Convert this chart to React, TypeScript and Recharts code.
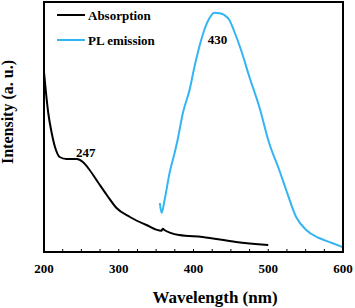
import React from "react";
import { LineChart, Line, XAxis, YAxis } from "recharts";

// absorption spectrum (black)
const absWavelength = [200, 202.7, 205.7, 210.3, 214.7, 221, 230, 244, 252, 261, 272, 284, 297, 315, 337, 357, 359, 361, 381, 412, 457, 500];
const absIntensity = [72, 63.6, 55.6, 47.6, 42, 38, 37.2, 37.2, 36, 32.8, 28, 22.8, 17.6, 14, 10.8, 8.5, 9.3, 8.8, 6.8, 6, 4, 2.8];

// PL emission spectrum (blue)
const plWavelength = [355, 357.3, 361.3, 368, 374.7, 378.7, 385.7, 394.7, 401.3, 410.3, 416, 421.3, 428, 434.7, 441.3, 448, 454.7, 463.6, 474.7, 488, 501.3, 514.7, 524, 537.3, 550.7, 568, 585.3, 599];
const plIntensity = [19.6, 15.6, 20.8, 31.6, 39.6, 44.8, 55.5, 64.8, 74.1, 84.8, 90.1, 93.5, 95.7, 95.5, 94.8, 92.8, 88.1, 80.8, 70.1, 58.1, 43.5, 32.8, 24.8, 14, 8.8, 5.6, 3.6, 2];

const xTicks = [200, 225, 250, 275, 300, 325, 350, 375, 400, 425, 450, 475, 500, 525, 550, 575, 600];

// peak annotations: text, x, y in data units
const peakLabels = ["247", "430"];
const peakLabelX = [256, 432];
const peakLabelY = [40, 85];

const series = [
    { key: "abs", name: "Absorption", color: "#000000" },
    { key: "pl", name: "PL emission", color: "#33b5f2" },
];

const FONT = "'Liberation Serif', 'Times New Roman', serif";

// one table keyed by wavelength, each series only where it was measured
const allWl = Array.from(new Set([...absWavelength, ...plWavelength])).sort((a, b) => a - b);
const data = allWl.map((wl) => {
    const ai = absWavelength.indexOf(wl);
    const pi = plWavelength.indexOf(wl);
    return {
        wl,
        abs: ai >= 0 ? absIntensity[ai] : null,
        pl: pi >= 0 ? plIntensity[pi] : null,
    };
});

// plot box in pixels (same numbers the chart is laid out with)
const W = 355;
const H = 308;
const M = { top: 2, right: 12, left: 0, bottom: 26 };
const Y_AXIS_W = 44;
const X_AXIS_H = 30;
const plotL = M.left + Y_AXIS_W;
const plotR = W - M.right;
const plotT = M.top;
const plotB = H - M.bottom - X_AXIS_H;
const px = (wl: number) => plotL + ((wl - 200) / 400) * (plotR - plotL);
const py = (v: number) => plotB - (v / 100) * (plotB - plotT);

// labels only on the hundreds
function XTick(props: any) {
    const { x, y, payload } = props;
    if (payload.value % 100 !== 0) return <g />;
    return (
        <text
            x={x}
            y={y + 13}
            textAnchor="middle"
            fontFamily={FONT}
            fontWeight="bold"
            fontSize={13}
            fill="#000"
        >
            {payload.value}
        </text>
    );
}

export default function App() {
    return (
        <div style={{ position: "absolute", left: 0, top: 0, width: W, height: H, background: "#fff" }}>
            <LineChart width={W} height={H} data={data} margin={M}>
                <XAxis
                    type="number"
                    dataKey="wl"
                    domain={[200, 600]}
                    ticks={xTicks}
                    height={X_AXIS_H}
                    tickLine={false}
                    tickSize={8}
                    tickMargin={0}
                    tick={<XTick />}
                    axisLine={false}
                />
                <YAxis
                    type="number"
                    domain={[0, 100]}
                    width={Y_AXIS_W}
                    tick={false}
                    tickLine={false}
                    axisLine={false}
                />
                {series.map((s) => (
                    <Line
                        key={s.key}
                        dataKey={s.key}
                        name={s.name}
                        type="monotone"
                        stroke={s.color}
                        strokeWidth={2}
                        dot={false}
                        connectNulls
                        isAnimationActive={false}
                    />
                ))}
            </LineChart>
            <svg
                width={W}
                height={H}
                style={{ position: "absolute", left: 0, top: 0, pointerEvents: "none" }}
            >
                {/* frame and inward minor ticks */}
                <rect
                    x={plotL}
                    y={plotT}
                    width={plotR - plotL}
                    height={plotB - plotT}
                    fill="none"
                    stroke="#000"
                    strokeWidth={2}
                />
                {xTicks.map((t) => (
                    <line key={t} x1={px(t)} x2={px(t)} y1={plotB} y2={plotB - 3} stroke="#000" strokeWidth={1} />
                ))}
                {series.map((s, i) => (
                    <g key={s.name}>
                        <line x1={57} x2={85} y1={15 + i * 25} y2={15 + i * 25} stroke={s.color} strokeWidth={2} />
                        <text
                            x={88}
                            y={20 + i * 25}
                            fontFamily={FONT}
                            fontWeight="bold"
                            fontSize={13}
                            fill="#000"
                        >
                            {s.name}
                        </text>
                    </g>
                ))}
                {peakLabels.map((t, i) => (
                    <text
                        key={t}
                        x={px(peakLabelX[i])}
                        y={py(peakLabelY[i]) + 4.5}
                        textAnchor="middle"
                        fontFamily={FONT}
                        fontWeight="bold"
                        fontSize={13}
                        fill="#000"
                    >
                        {t}
                    </text>
                ))}
                <text
                    x={215}
                    y={303}
                    textAnchor="middle"
                    fontFamily={FONT}
                    fontWeight="bold"
                    fontSize={17}
                    fill="#000"
                >
                    Wavelength (nm)
                </text>
                <text
                    x={13}
                    y={112}
                    textAnchor="middle"
                    transform="rotate(-90 13 112)"
                    fontFamily={FONT}
                    fontWeight="bold"
                    fontSize={16}
                    fill="#000"
                >
                    Intensity (a. u.)
                </text>
            </svg>
        </div>
    );
}
